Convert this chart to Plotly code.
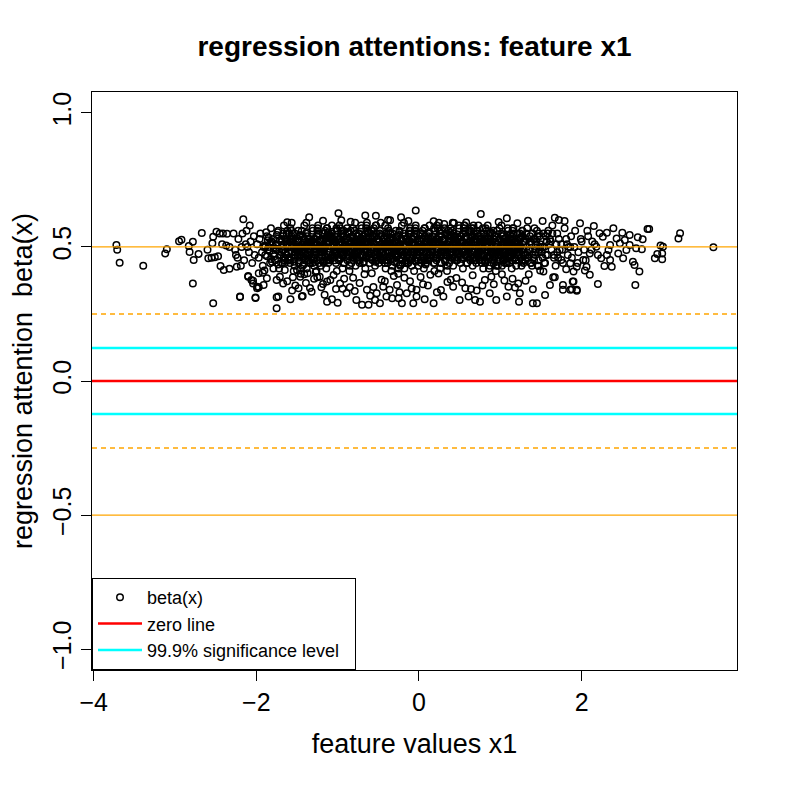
import plotly.graph_objects as go

# ---- data ----
# sparse left tail (x < -2)
left_x = [-3.72, -3.71, -3.68, -3.39, -3.12, -3.10, -2.95, -2.92, -2.83, -2.82,
          -2.78, -2.77, -2.78, -2.71, -2.67, -2.60, -2.59, -2.53, -2.54, -2.53,
          -2.49, -2.45, -2.41, -2.36, -2.55, -2.51, -2.47, -2.44, -2.40, -2.33,
          -2.24, -2.20, -2.16, -2.10, -2.06, -2.04, -2.01, -1.99, -2.42, -2.37,
          -2.33, -2.20, -2.01,
          -2.28, -2.25, -2.22, -2.18, -2.15, -2.12, -2.09, -2.07, -2.05, -2.03,
          -2.26, -2.19, -2.13, -2.08, -2.02, -2.23, -2.17, -2.11]
left_y = [0.507, 0.490, 0.441, 0.430, 0.476, 0.491, 0.521, 0.527, 0.504, 0.481,
          0.519, 0.451, 0.364, 0.474, 0.552, 0.490, 0.458, 0.290, 0.514, 0.538,
          0.557, 0.550, 0.550, 0.549, 0.460, 0.462, 0.465, 0.429, 0.414, 0.419,
          0.426, 0.315, 0.603, 0.392, 0.377, 0.364, 0.311, 0.346, 0.510, 0.505,
          0.500, 0.313, 0.310,
          0.55, 0.47, 0.53, 0.50, 0.45, 0.56, 0.48, 0.52, 0.44, 0.54,
          0.49, 0.43, 0.51, 0.58, 0.47, 0.46, 0.55, 0.50]

# dense core, one row per 0.1 wide slice of x
core_x = [
    -1.99, -1.97, -1.95, -1.93, -1.92, -1.96, -1.91,
    -1.89, -1.87, -1.85, -1.83, -1.82, -1.86, -1.81,
    -1.79, -1.77, -1.75, -1.73, -1.72, -1.76, -1.71,
    -1.69, -1.67, -1.65, -1.63, -1.62, -1.66, -1.61,
    -1.59, -1.57, -1.55, -1.53, -1.51, -1.58, -1.56, -1.54, -1.52, -1.595, -1.565, -1.515,
    -1.49, -1.47, -1.45, -1.43, -1.41, -1.48, -1.46, -1.44, -1.42, -1.485, -1.455, -1.415,
    -1.39, -1.37, -1.35, -1.33, -1.31, -1.38, -1.36, -1.34, -1.32, -1.385, -1.355, -1.315,
    -1.29, -1.27, -1.25, -1.23, -1.21, -1.28, -1.26, -1.24, -1.22, -1.285, -1.255, -1.215,
    -1.19, -1.17, -1.15, -1.13, -1.11, -1.18, -1.16, -1.14, -1.12, -1.185, -1.155, -1.115,
    -1.09, -1.07, -1.05, -1.03, -1.01, -1.08, -1.06, -1.04, -1.02, -1.085, -1.055, -1.015,
    -0.99, -0.97, -0.95, -0.93, -0.91, -0.98, -0.96, -0.94, -0.92, -0.985, -0.955, -0.915,
    -0.89, -0.87, -0.85, -0.83, -0.81, -0.88, -0.86, -0.84, -0.82, -0.885, -0.855, -0.815,
    -0.79, -0.77, -0.75, -0.73, -0.71, -0.78, -0.76, -0.74, -0.72, -0.785, -0.755, -0.715,
    -0.69, -0.67, -0.65, -0.63, -0.61, -0.68, -0.66, -0.64, -0.62, -0.685, -0.655, -0.615,
    -0.59, -0.57, -0.55, -0.53, -0.51, -0.58, -0.56, -0.54, -0.52, -0.585, -0.555, -0.515,
    -0.49, -0.47, -0.45, -0.43, -0.41, -0.48, -0.46, -0.44, -0.42, -0.485, -0.455, -0.415,
    -0.39, -0.37, -0.35, -0.33, -0.31, -0.38, -0.36, -0.34, -0.32, -0.385, -0.355, -0.315,
    -0.29, -0.27, -0.25, -0.23, -0.21, -0.28, -0.26, -0.24, -0.22, -0.285, -0.255, -0.215,
    -0.19, -0.17, -0.15, -0.13, -0.11, -0.18, -0.16, -0.14, -0.12, -0.185, -0.155, -0.115,
    -0.09, -0.07, -0.05, -0.03, -0.01, -0.08, -0.06, -0.04, -0.02, -0.085, -0.055, -0.015,
    0.01, 0.03, 0.05, 0.07, 0.09, 0.02, 0.04, 0.06, 0.08, 0.015, 0.045, 0.085,
    0.11, 0.13, 0.15, 0.17, 0.19, 0.12, 0.14, 0.16, 0.18, 0.115, 0.145, 0.185,
    0.21, 0.23, 0.25, 0.27, 0.29, 0.22, 0.24, 0.26, 0.28, 0.215, 0.245, 0.285,
    0.31, 0.33, 0.35, 0.37, 0.39, 0.32, 0.34, 0.36, 0.38, 0.315, 0.345, 0.385,
    0.41, 0.43, 0.45, 0.47, 0.49, 0.42, 0.44, 0.46, 0.48, 0.415, 0.445, 0.485,
    0.51, 0.53, 0.55, 0.57, 0.59, 0.52, 0.54, 0.56, 0.58, 0.515, 0.545, 0.585,
    0.61, 0.63, 0.65, 0.67, 0.69, 0.62, 0.64, 0.66, 0.68, 0.615, 0.645, 0.685,
    0.71, 0.73, 0.75, 0.77, 0.79, 0.72, 0.74, 0.76, 0.78, 0.715, 0.745, 0.785,
    0.81, 0.83, 0.85, 0.87, 0.89, 0.82, 0.84, 0.86, 0.88, 0.815, 0.845, 0.885,
    0.91, 0.93, 0.95, 0.97, 0.99, 0.92, 0.94, 0.96, 0.98, 0.915, 0.945, 0.985,
    1.01, 1.03, 1.05, 1.07, 1.09, 1.02, 1.04, 1.06, 1.08, 1.015, 1.045, 1.085,
    1.11, 1.13, 1.15, 1.17, 1.19, 1.12, 1.14, 1.16, 1.18, 1.115, 1.145, 1.185,
    1.21, 1.23, 1.25, 1.27, 1.29, 1.22, 1.24, 1.26, 1.28,
    1.31, 1.33, 1.35, 1.37, 1.39, 1.32, 1.34, 1.36, 1.38,
    1.41, 1.43, 1.45, 1.47, 1.49, 1.42, 1.44, 1.46, 1.48,
    1.51, 1.53, 1.55, 1.57, 1.59, 1.52, 1.54, 1.56, 1.58,
]
core_y = [
    0.51, 0.46, 0.55, 0.48, 0.43, 0.53, 0.50,
    0.47, 0.54, 0.50, 0.44, 0.57, 0.49, 0.52,
    0.53, 0.45, 0.49, 0.56, 0.42, 0.51, 0.47,
    0.48, 0.55, 0.44, 0.52, 0.50, 0.58, 0.46,
    0.52, 0.46, 0.55, 0.43, 0.50, 0.57, 0.48, 0.41, 0.53, 0.45, 0.59, 0.49,
    0.47, 0.54, 0.42, 0.51, 0.58, 0.44, 0.50, 0.56, 0.46, 0.53, 0.40, 0.49,
    0.55, 0.48, 0.51, 0.44, 0.57, 0.42, 0.53, 0.47, 0.50, 0.59, 0.45, 0.52,
    0.43, 0.51, 0.56, 0.48, 0.45, 0.53, 0.41, 0.58, 0.50, 0.46, 0.54, 0.49,
    0.50, 0.44, 0.53, 0.57, 0.47, 0.49, 0.55, 0.42, 0.52, 0.48, 0.56, 0.45,
    0.46, 0.58, 0.49, 0.52, 0.41, 0.55, 0.47, 0.51, 0.44, 0.54, 0.50, 0.57,
    0.53, 0.47, 0.56, 0.44, 0.51, 0.58, 0.49, 0.42, 0.54, 0.46, 0.60, 0.50,
    0.48, 0.55, 0.43, 0.52, 0.57, 0.45, 0.51, 0.56, 0.47, 0.53, 0.41, 0.50,
    0.56, 0.49, 0.52, 0.45, 0.58, 0.43, 0.54, 0.48, 0.51, 0.59, 0.46, 0.53,
    0.44, 0.52, 0.57, 0.49, 0.46, 0.54, 0.42, 0.59, 0.51, 0.47, 0.55, 0.50,
    0.51, 0.45, 0.54, 0.58, 0.48, 0.50, 0.56, 0.43, 0.53, 0.49, 0.57, 0.46,
    0.47, 0.59, 0.50, 0.53, 0.42, 0.56, 0.48, 0.52, 0.45, 0.55, 0.51, 0.58,
    0.52, 0.46, 0.55, 0.43, 0.50, 0.57, 0.48, 0.41, 0.53, 0.45, 0.60, 0.49,
    0.47, 0.54, 0.42, 0.51, 0.58, 0.44, 0.50, 0.56, 0.46, 0.53, 0.40, 0.49,
    0.55, 0.48, 0.51, 0.44, 0.57, 0.42, 0.53, 0.47, 0.50, 0.59, 0.45, 0.52,
    0.43, 0.51, 0.56, 0.48, 0.45, 0.53, 0.41, 0.58, 0.50, 0.46, 0.54, 0.49,
    0.50, 0.44, 0.53, 0.57, 0.47, 0.49, 0.55, 0.42, 0.52, 0.48, 0.56, 0.45,
    0.46, 0.58, 0.49, 0.52, 0.41, 0.55, 0.47, 0.51, 0.44, 0.54, 0.50, 0.57,
    0.53, 0.47, 0.56, 0.44, 0.51, 0.58, 0.49, 0.42, 0.54, 0.46, 0.59, 0.50,
    0.48, 0.55, 0.43, 0.52, 0.57, 0.45, 0.51, 0.56, 0.47, 0.53, 0.41, 0.50,
    0.56, 0.49, 0.52, 0.45, 0.58, 0.43, 0.54, 0.48, 0.51, 0.59, 0.46, 0.53,
    0.44, 0.52, 0.57, 0.49, 0.46, 0.54, 0.42, 0.58, 0.51, 0.47, 0.55, 0.50,
    0.51, 0.45, 0.54, 0.58, 0.48, 0.50, 0.56, 0.43, 0.53, 0.49, 0.57, 0.46,
    0.47, 0.58, 0.50, 0.53, 0.42, 0.56, 0.48, 0.52, 0.45, 0.55, 0.51, 0.57,
    0.52, 0.46, 0.55, 0.43, 0.50, 0.57, 0.48, 0.42, 0.53, 0.45, 0.58, 0.49,
    0.47, 0.54, 0.43, 0.51, 0.57, 0.44, 0.50, 0.56, 0.46, 0.53, 0.41, 0.49,
    0.55, 0.48, 0.51, 0.44, 0.57, 0.43, 0.53, 0.47, 0.50, 0.58, 0.45, 0.52,
    0.44, 0.51, 0.56, 0.48, 0.45, 0.53, 0.42, 0.57, 0.50, 0.46, 0.54, 0.49,
    0.50, 0.45, 0.53, 0.56, 0.47, 0.49, 0.55, 0.43, 0.52,
    0.47, 0.57, 0.49, 0.52, 0.43, 0.55, 0.46, 0.51, 0.44,
    0.53, 0.48, 0.56, 0.45, 0.51, 0.57, 0.49, 0.43, 0.54,
    0.48, 0.55, 0.44, 0.52, 0.56, 0.46, 0.50, 0.54, 0.47,
]

# second pass over the darkest part of the core
inner_x = [
    -1.675, -1.635, -1.665, -1.625, -1.695, -1.605, -1.645, -1.685, -1.655, -1.615, -1.67, -1.63,
    -1.575, -1.535, -1.565, -1.525, -1.595, -1.505, -1.545, -1.585, -1.555, -1.515, -1.57, -1.53,
    -1.475, -1.435, -1.465, -1.425, -1.495, -1.405, -1.445, -1.485, -1.455, -1.415, -1.47, -1.43,
    -1.375, -1.335, -1.365, -1.325, -1.395, -1.305, -1.345, -1.385, -1.355, -1.315, -1.37, -1.33,
    -1.275, -1.235, -1.265, -1.225, -1.295, -1.205, -1.245, -1.285, -1.255, -1.215, -1.27, -1.23,
    -1.175, -1.135, -1.165, -1.125, -1.195, -1.105, -1.145, -1.185, -1.155, -1.115, -1.17, -1.13,
    -1.075, -1.035, -1.065, -1.025, -1.095, -1.005, -1.045, -1.085, -1.055, -1.015, -1.07, -1.03,
    -0.975, -0.935, -0.965, -0.925, -0.995, -0.905, -0.945, -0.985, -0.955, -0.915, -0.97, -0.93,
    -0.875, -0.835, -0.865, -0.825, -0.895, -0.805, -0.845, -0.885, -0.855, -0.815, -0.87, -0.83,
    -0.775, -0.735, -0.765, -0.725, -0.795, -0.705, -0.745, -0.785, -0.755, -0.715, -0.77, -0.73,
    -0.675, -0.635, -0.665, -0.625, -0.695, -0.605, -0.645, -0.685, -0.655, -0.615, -0.67, -0.63,
    -0.575, -0.535, -0.565, -0.525, -0.595, -0.505, -0.545, -0.585, -0.555, -0.515, -0.57, -0.53,
    -0.475, -0.435, -0.465, -0.425, -0.495, -0.405, -0.445, -0.485, -0.455, -0.415, -0.47, -0.43,
    -0.375, -0.335, -0.365, -0.325, -0.395, -0.305, -0.345, -0.385, -0.355, -0.315, -0.37, -0.33,
    -0.275, -0.235, -0.265, -0.225, -0.295, -0.205, -0.245, -0.285, -0.255, -0.215, -0.27, -0.23,
    -0.175, -0.135, -0.165, -0.125, -0.195, -0.105, -0.145, -0.185, -0.155, -0.115, -0.17, -0.13,
    -0.075, -0.035, -0.065, -0.025, -0.095, -0.005, -0.045, -0.085, -0.055, -0.015, -0.07, -0.03,
    0.025, 0.065, 0.035, 0.075, 0.005, 0.095, 0.055, 0.015, 0.045, 0.085, 0.03, 0.07,
    0.125, 0.165, 0.135, 0.175, 0.105, 0.195, 0.155, 0.115, 0.145, 0.185, 0.13, 0.17,
    0.225, 0.265, 0.235, 0.275, 0.205, 0.295, 0.255, 0.215, 0.245, 0.285, 0.23, 0.27,
    0.325, 0.365, 0.335, 0.375, 0.305, 0.395, 0.355, 0.315, 0.345, 0.385, 0.33, 0.37,
    0.425, 0.465, 0.435, 0.475, 0.405, 0.495, 0.455, 0.415, 0.445, 0.485, 0.43, 0.47,
    0.525, 0.565, 0.535, 0.575, 0.505, 0.595, 0.555, 0.515, 0.545, 0.585, 0.53, 0.57,
    0.625, 0.665, 0.635, 0.675, 0.605, 0.695, 0.655, 0.615, 0.645, 0.685, 0.63, 0.67,
    0.725, 0.765, 0.735, 0.775, 0.705, 0.795, 0.755, 0.715, 0.745, 0.785, 0.73, 0.77,
    0.825, 0.865, 0.835, 0.875, 0.805, 0.895, 0.855, 0.815, 0.845, 0.885, 0.83, 0.87,
    0.925, 0.965, 0.935, 0.975, 0.905, 0.995, 0.955, 0.915, 0.945, 0.985, 0.93, 0.97,
    1.025, 1.065, 1.035, 1.075, 1.005, 1.095, 1.055, 1.015, 1.045, 1.085, 1.03, 1.07,
    1.125, 1.165, 1.135, 1.175, 1.105, 1.195, 1.155, 1.115, 1.145, 1.185, 1.13, 1.17,
    1.225, 1.265, 1.235, 1.275, 1.205, 1.295, 1.255, 1.215, 1.245, 1.285, 1.23, 1.27,
    1.325, 1.365, 1.335, 1.375, 1.305, 1.395, 1.355, 1.315, 1.345, 1.385, 1.33, 1.37,
    1.425, 1.465, 1.435, 1.475, 1.405, 1.495, 1.455, 1.415, 1.445, 1.485, 1.43, 1.47,
]
inner_y = [
    0.49, 0.53, 0.46, 0.51, 0.44, 0.55, 0.48, 0.52, 0.45, 0.50, 0.54, 0.47,
    0.52, 0.47, 0.50, 0.55, 0.45, 0.49, 0.53, 0.44, 0.51, 0.48, 0.56, 0.46,
    0.46, 0.51, 0.54, 0.48, 0.52, 0.45, 0.50, 0.56, 0.47, 0.53, 0.49, 0.43,
    0.54, 0.49, 0.45, 0.52, 0.47, 0.56, 0.44, 0.50, 0.53, 0.46, 0.51, 0.48,
    0.48, 0.55, 0.51, 0.46, 0.53, 0.43, 0.57, 0.49, 0.45, 0.52, 0.47, 0.50,
    0.51, 0.45, 0.49, 0.54, 0.48, 0.52, 0.46, 0.55, 0.50, 0.44, 0.53, 0.57,
    0.50, 0.54, 0.47, 0.52, 0.45, 0.56, 0.49, 0.53, 0.46, 0.51, 0.55, 0.48,
    0.53, 0.48, 0.51, 0.56, 0.46, 0.50, 0.54, 0.45, 0.52, 0.49, 0.57, 0.47,
    0.47, 0.52, 0.55, 0.49, 0.53, 0.46, 0.51, 0.57, 0.48, 0.54, 0.50, 0.44,
    0.55, 0.50, 0.46, 0.53, 0.48, 0.57, 0.45, 0.51, 0.54, 0.47, 0.52, 0.49,
    0.49, 0.56, 0.52, 0.47, 0.54, 0.44, 0.58, 0.50, 0.46, 0.53, 0.48, 0.51,
    0.52, 0.46, 0.50, 0.55, 0.49, 0.53, 0.47, 0.56, 0.51, 0.45, 0.54, 0.58,
    0.49, 0.53, 0.46, 0.51, 0.44, 0.55, 0.48, 0.52, 0.45, 0.50, 0.54, 0.47,
    0.52, 0.47, 0.50, 0.55, 0.45, 0.49, 0.53, 0.44, 0.51, 0.48, 0.56, 0.46,
    0.46, 0.51, 0.54, 0.48, 0.52, 0.45, 0.50, 0.56, 0.47, 0.53, 0.49, 0.43,
    0.54, 0.49, 0.45, 0.52, 0.47, 0.56, 0.44, 0.50, 0.53, 0.46, 0.51, 0.48,
    0.48, 0.55, 0.51, 0.46, 0.53, 0.43, 0.57, 0.49, 0.45, 0.52, 0.47, 0.50,
    0.51, 0.45, 0.49, 0.54, 0.48, 0.52, 0.46, 0.55, 0.50, 0.44, 0.53, 0.57,
    0.50, 0.54, 0.47, 0.52, 0.45, 0.56, 0.49, 0.53, 0.46, 0.51, 0.55, 0.48,
    0.53, 0.48, 0.51, 0.56, 0.46, 0.50, 0.54, 0.45, 0.52, 0.49, 0.57, 0.47,
    0.47, 0.52, 0.55, 0.49, 0.53, 0.46, 0.51, 0.57, 0.48, 0.54, 0.50, 0.44,
    0.55, 0.50, 0.46, 0.53, 0.48, 0.57, 0.45, 0.51, 0.54, 0.47, 0.52, 0.49,
    0.49, 0.56, 0.52, 0.47, 0.54, 0.44, 0.58, 0.50, 0.46, 0.53, 0.48, 0.51,
    0.52, 0.46, 0.50, 0.55, 0.49, 0.53, 0.47, 0.56, 0.51, 0.45, 0.54, 0.57,
    0.49, 0.53, 0.46, 0.51, 0.44, 0.55, 0.48, 0.52, 0.45, 0.50, 0.54, 0.47,
    0.52, 0.47, 0.50, 0.55, 0.45, 0.49, 0.53, 0.44, 0.51, 0.48, 0.56, 0.46,
    0.46, 0.51, 0.54, 0.48, 0.52, 0.45, 0.50, 0.56, 0.47, 0.53, 0.49, 0.43,
    0.54, 0.49, 0.45, 0.52, 0.47, 0.56, 0.44, 0.50, 0.53, 0.46, 0.51, 0.48,
    0.48, 0.55, 0.51, 0.46, 0.53, 0.43, 0.57, 0.49, 0.45, 0.52, 0.47, 0.50,
    0.51, 0.45, 0.49, 0.54, 0.48, 0.52, 0.46, 0.55, 0.50, 0.44, 0.53, 0.56,
    0.50, 0.54, 0.47, 0.52, 0.45, 0.55, 0.49, 0.53, 0.46, 0.51, 0.48, 0.44,
    0.53, 0.48, 0.51, 0.55, 0.46, 0.50, 0.54, 0.45, 0.52, 0.49, 0.47, 0.43,
]

# third pass: fills the gaps between the first two passes
fill_x = [
    -1.888, -1.848, -1.868, -1.828, -1.808, -1.878, -1.838, -1.858, -1.818, -1.898,
    -1.788, -1.748, -1.768, -1.728, -1.708, -1.778, -1.738, -1.758, -1.718, -1.798,
    -1.688, -1.648, -1.668, -1.628, -1.608, -1.678, -1.638, -1.658, -1.618, -1.698,
    -1.588, -1.548, -1.568, -1.528, -1.508, -1.578, -1.538, -1.558, -1.518, -1.598,
    -1.488, -1.448, -1.468, -1.428, -1.408, -1.478, -1.438, -1.458, -1.418, -1.498,
    -1.388, -1.348, -1.368, -1.328, -1.308, -1.378, -1.338, -1.358, -1.318, -1.398,
    -1.288, -1.248, -1.268, -1.228, -1.208, -1.278, -1.238, -1.258, -1.218, -1.298,
    -1.188, -1.148, -1.168, -1.128, -1.108, -1.178, -1.138, -1.158, -1.118, -1.198,
    -1.088, -1.048, -1.068, -1.028, -1.008, -1.078, -1.038, -1.058, -1.018, -1.098,
    -0.988, -0.948, -0.968, -0.928, -0.908, -0.978, -0.938, -0.958, -0.918, -0.998,
    -0.888, -0.848, -0.868, -0.828, -0.808, -0.878, -0.838, -0.858, -0.818, -0.898,
    -0.788, -0.748, -0.768, -0.728, -0.708, -0.778, -0.738, -0.758, -0.718, -0.798,
    -0.688, -0.648, -0.668, -0.628, -0.608, -0.678, -0.638, -0.658, -0.618, -0.698,
    -0.588, -0.548, -0.568, -0.528, -0.508, -0.578, -0.538, -0.558, -0.518, -0.598,
    -0.488, -0.448, -0.468, -0.428, -0.408, -0.478, -0.438, -0.458, -0.418, -0.498,
    -0.388, -0.348, -0.368, -0.328, -0.308, -0.378, -0.338, -0.358, -0.318, -0.398,
    -0.288, -0.248, -0.268, -0.228, -0.208, -0.278, -0.238, -0.258, -0.218, -0.298,
    -0.188, -0.148, -0.168, -0.128, -0.108, -0.178, -0.138, -0.158, -0.118, -0.198,
    -0.088, -0.048, -0.068, -0.028, -0.008, -0.078, -0.038, -0.058, -0.018, -0.098,
    0.012, 0.052, 0.032, 0.072, 0.092, 0.022, 0.062, 0.042, 0.082, 0.002,
    0.112, 0.152, 0.132, 0.172, 0.192, 0.122, 0.162, 0.142, 0.182, 0.102,
    0.212, 0.252, 0.232, 0.272, 0.292, 0.222, 0.262, 0.242, 0.282, 0.202,
    0.312, 0.352, 0.332, 0.372, 0.392, 0.322, 0.362, 0.342, 0.382, 0.302,
    0.412, 0.452, 0.432, 0.472, 0.492, 0.422, 0.462, 0.442, 0.482, 0.402,
    0.512, 0.552, 0.532, 0.572, 0.592, 0.522, 0.562, 0.542, 0.582, 0.502,
    0.612, 0.652, 0.632, 0.672, 0.692, 0.622, 0.662, 0.642, 0.682, 0.602,
    0.712, 0.752, 0.732, 0.772, 0.792, 0.722, 0.762, 0.742, 0.782, 0.702,
    0.812, 0.852, 0.832, 0.872, 0.892, 0.822, 0.862, 0.842, 0.882, 0.802,
    0.912, 0.952, 0.932, 0.972, 0.992, 0.922, 0.962, 0.942, 0.982, 0.902,
    1.012, 1.052, 1.032, 1.072, 1.092, 1.022, 1.062, 1.042, 1.082, 1.002,
    1.112, 1.152, 1.132, 1.172, 1.192, 1.122, 1.162, 1.142, 1.182, 1.102,
    1.212, 1.252, 1.232, 1.272, 1.292, 1.222, 1.262, 1.242, 1.282, 1.202,
]
fill_y = [
    0.500, 0.535, 0.465, 0.515, 0.445, 0.555, 0.485, 0.525, 0.455, 0.505,
    0.475, 0.545, 0.495, 0.435, 0.525, 0.465, 0.555, 0.505, 0.485, 0.515,
    0.530, 0.460, 0.510, 0.550, 0.480, 0.440, 0.520, 0.490, 0.560, 0.470,
    0.455, 0.505, 0.540, 0.470, 0.500, 0.530, 0.445, 0.515, 0.480, 0.550,
    0.520, 0.480, 0.450, 0.540, 0.510, 0.490, 0.465, 0.545, 0.435, 0.500,
    0.505, 0.530, 0.470, 0.515, 0.440, 0.555, 0.485, 0.520, 0.460, 0.500,
    0.480, 0.540, 0.495, 0.440, 0.525, 0.470, 0.550, 0.510, 0.485, 0.515,
    0.525, 0.465, 0.505, 0.545, 0.480, 0.445, 0.520, 0.495, 0.555, 0.470,
    0.460, 0.505, 0.535, 0.475, 0.500, 0.530, 0.450, 0.510, 0.485, 0.545,
    0.515, 0.485, 0.455, 0.540, 0.505, 0.490, 0.470, 0.550, 0.440, 0.500,
    0.495, 0.535, 0.465, 0.520, 0.450, 0.555, 0.480, 0.525, 0.460, 0.505,
    0.475, 0.540, 0.500, 0.440, 0.525, 0.465, 0.550, 0.505, 0.490, 0.515,
    0.530, 0.465, 0.510, 0.550, 0.475, 0.445, 0.520, 0.490, 0.555, 0.470,
    0.455, 0.510, 0.540, 0.470, 0.495, 0.530, 0.445, 0.515, 0.485, 0.550,
    0.520, 0.480, 0.455, 0.535, 0.510, 0.490, 0.465, 0.545, 0.440, 0.500,
    0.500, 0.535, 0.465, 0.515, 0.445, 0.555, 0.485, 0.525, 0.455, 0.505,
    0.475, 0.545, 0.495, 0.435, 0.525, 0.465, 0.555, 0.505, 0.485, 0.515,
    0.530, 0.460, 0.510, 0.550, 0.480, 0.440, 0.520, 0.490, 0.560, 0.470,
    0.455, 0.505, 0.540, 0.470, 0.500, 0.530, 0.445, 0.515, 0.480, 0.550,
    0.520, 0.480, 0.450, 0.540, 0.510, 0.490, 0.465, 0.545, 0.435, 0.500,
    0.505, 0.530, 0.470, 0.515, 0.440, 0.555, 0.485, 0.520, 0.460, 0.500,
    0.480, 0.540, 0.495, 0.440, 0.525, 0.470, 0.550, 0.510, 0.485, 0.515,
    0.525, 0.465, 0.505, 0.545, 0.480, 0.445, 0.520, 0.495, 0.555, 0.470,
    0.460, 0.505, 0.535, 0.475, 0.500, 0.530, 0.450, 0.510, 0.485, 0.545,
    0.515, 0.485, 0.455, 0.540, 0.505, 0.490, 0.470, 0.550, 0.440, 0.500,
    0.495, 0.535, 0.465, 0.520, 0.450, 0.555, 0.480, 0.525, 0.460, 0.505,
    0.475, 0.540, 0.500, 0.440, 0.525, 0.465, 0.550, 0.505, 0.490, 0.515,
    0.530, 0.465, 0.510, 0.550, 0.475, 0.445, 0.520, 0.490, 0.555, 0.470,
    0.455, 0.510, 0.540, 0.470, 0.495, 0.530, 0.445, 0.515, 0.485, 0.550,
    0.520, 0.480, 0.455, 0.535, 0.510, 0.490, 0.465, 0.545, 0.440, 0.500,
    0.500, 0.530, 0.465, 0.515, 0.450, 0.545, 0.485, 0.525, 0.460, 0.505,
    0.480, 0.535, 0.495, 0.445, 0.520, 0.470, 0.540, 0.505, 0.490, 0.515,
]

# taper of the dense band on its right end
taper_x = [1.52, 1.56, 1.61, 1.58, 1.63, 1.69, 1.54, 1.66, 1.72, 1.60,
           1.76, 1.82, 1.57, 1.64, 1.70]
taper_y = [0.50, 0.47, 0.53, 0.55, 0.49, 0.51, 0.44, 0.46, 0.53, 0.51,
           0.49, 0.51, 0.52, 0.55, 0.48]

# scattered points below the core (y < 0.42)
low_x = [-2.10, -2.04, -1.99, -1.92, -1.87, -1.79, -1.71, -1.65, -1.55, -1.50,
         -1.37, -1.25, -1.13, -1.75, -1.75, -1.58, -1.48, -1.43, -1.34, -1.20,
         -1.13, -1.97, -1.90, -1.91, -1.97, -1.75, -1.73, -1.44, -1.32, -1.22,
         -1.07, -1.00, -0.89, -0.85, -0.77, -0.70, -0.62, -0.54, -0.48, -0.40,
         -0.36, -0.27, -0.21, -0.15, -0.07, -0.03, -1.09, -0.97, -0.64, -0.52,
         -0.44, -1.46, -1.67,
         -0.03, 0.07, 0.18, 0.30, 0.42, 0.50, 0.61, 0.69, 0.75, 0.87,
         0.95, 1.08, 1.10, 1.22, 1.24, 1.23, 1.40, 1.45, 1.40, 1.55,
         1.61, 1.67, 1.77, 1.86, 1.94, 1.90, 1.77, 1.49, 1.53, 1.65,
         1.81, 1.90, 1.86, 1.94, 1.75,
         -1.62, -1.52, -1.41, -1.29, -1.18, -1.05, -0.94, -0.81, -0.73, -0.58,
         -0.46, -0.31, -0.24, -0.11, 0.02, 0.11, 0.24, 0.35, 0.46, 0.57,
         0.66, 0.81, 0.92, 1.02, 1.15, 1.31, -1.56, -1.39, -1.27, -1.16,
         -1.02, -0.92, -0.79, -0.67, -0.56, -0.42, -0.33, -0.18, -0.09, 0.05,
         0.14, 0.27, 0.39, 0.53, 0.64, 0.78, 0.89, 1.05, 1.18, 1.35,
         -0.60, -0.25, 0.22, 0.71]
low_y = [0.389, 0.374, 0.352, 0.404, 0.383, 0.420, 0.389, 0.414, 0.387, 0.414,
         0.402, 0.387, 0.371, 0.312, 0.271, 0.305, 0.346, 0.317, 0.347, 0.350,
         0.296, 0.402, 0.412, 0.358, 0.350, 0.377, 0.315, 0.315, 0.333, 0.389,
         0.305, 0.292, 0.327, 0.350, 0.302, 0.284, 0.284, 0.302, 0.290, 0.315,
         0.340, 0.358, 0.290, 0.327, 0.290, 0.315, 0.377, 0.364, 0.340, 0.327,
         0.352, 0.389, 0.364,
         0.340, 0.305, 0.290, 0.315, 0.352, 0.302, 0.315, 0.302, 0.296, 0.327,
         0.302, 0.315, 0.352, 0.364, 0.327, 0.296, 0.290, 0.290, 0.342, 0.321,
         0.358, 0.387, 0.340, 0.340, 0.337, 0.371, 0.358, 0.412, 0.408, 0.387,
         0.417, 0.408, 0.439, 0.426, 0.451,
         0.372, 0.356, 0.398, 0.381, 0.362, 0.395, 0.344, 0.385, 0.366, 0.402,
         0.378, 0.392, 0.331, 0.372, 0.388, 0.356, 0.401, 0.369, 0.384, 0.346,
         0.394, 0.377, 0.361, 0.398, 0.381, 0.374, 0.338, 0.366, 0.407, 0.322,
         0.343, 0.381, 0.336, 0.398, 0.351, 0.372, 0.309, 0.385, 0.345, 0.361,
         0.396, 0.339, 0.378, 0.367, 0.343, 0.356, 0.389, 0.375, 0.349, 0.398,
         0.318, 0.309, 0.331, 0.338]

# scattered points above the core
up_x = [-1.35, -0.99, -0.66, -0.53, -0.04, -0.22, 0.76, 1.67, 1.72, 1.79,
        1.08, 1.34, 1.52, -1.62, -1.18, -0.84, -0.38, 0.18, 0.43, 0.98,
        1.21, 0.58, -0.13, 0.31]
up_y = [0.611, 0.626, 0.617, 0.616, 0.636, 0.611, 0.623, 0.609, 0.601, 0.597,
        0.607, 0.598, 0.597, 0.592, 0.598, 0.594, 0.601, 0.596, 0.589, 0.593,
        0.588, 0.591, 0.597, 0.586]

# right side thinning out (x > 1.6)
right_x = [1.62, 1.66, 1.70, 1.73, 1.77, 1.81, 1.84, 1.88, 1.92, 1.96,
           2.00, 2.05, 2.08, 2.12, 2.16, 2.20, 1.64, 1.68, 1.75, 1.79,
           1.83, 1.87, 1.91, 1.95, 1.99, 2.03, 2.07, 2.13, 1.71, 1.86,
           1.98, 2.15, 2.39, 2.50, 2.59, 2.69, 2.75, 2.81, 2.83, 3.19,
           3.21, 3.62, 2.97, 3.00, 2.99, 2.99, 2.93, 2.90, 2.71, 2.66,
           2.63, 2.65, 2.51, 2.74, 2.67, 2.59, 2.53, 2.47, 2.35, 2.26,
           2.31, 2.22, 2.37, 2.28, 2.20, 2.10, 2.04, 1.94, 1.88, 1.89,
           2.06, 2.35, 2.24, 2.45, 2.55, 2.43, 2.18, 2.10, 2.31, 2.33,
           2.02]
right_y = [0.52, 0.47, 0.55, 0.49, 0.44, 0.53, 0.50, 0.46, 0.56, 0.48,
           0.52, 0.45, 0.54, 0.49, 0.51, 0.47, 0.58, 0.43, 0.51, 0.57,
           0.47, 0.54, 0.50, 0.44, 0.53, 0.49, 0.56, 0.52, 0.46, 0.50,
           0.588, 0.578, 0.570, 0.553, 0.545, 0.536, 0.529, 0.567, 0.567, 0.532,
           0.551, 0.499, 0.505, 0.501, 0.476, 0.454, 0.474, 0.458, 0.408, 0.358,
           0.445, 0.433, 0.458, 0.491, 0.495, 0.507, 0.526, 0.514, 0.507, 0.538,
           0.553, 0.551, 0.426, 0.429, 0.362, 0.396, 0.412, 0.340, 0.342, 0.371,
           0.426, 0.451, 0.458, 0.476, 0.489, 0.532, 0.501, 0.476, 0.470, 0.489,
           0.451]

zero_level = [0.0]
sig_levels = [0.123, -0.123]
orange_levels = [0.5, -0.5]
orange_dash_levels = [0.25, -0.25]

x_ticks = [-4, -2, 0, 2]
x_tick_text = ["\u22124", "\u22122", "0", "2"]
y_ticks = [-1.0, -0.5, 0.0, 0.5, 1.0]
y_tick_text = ["\u22121.0", "\u22120.5", "0.0", "0.5", "1.0"]

FONT = "Liberation Sans, Arial, Helvetica, sans-serif"

beta_x = left_x + core_x + inner_x + fill_x + taper_x + low_x + up_x + right_x
beta_y = left_y + core_y + inner_y + fill_y + taper_y + low_y + up_y + right_y

fig = go.Figure()
fig.add_trace(go.Scatter(
    x=beta_x, y=beta_y, mode="markers", name="beta(x)",
    marker=dict(symbol="circle-open", size=6.5, color="black",
                line=dict(width=1.5, color="black")),
))

# horizontal reference lines
for lv in orange_levels:
    fig.add_hline(y=lv, line=dict(color="#FFA500", width=1.3))
for lv in orange_dash_levels:
    fig.add_hline(y=lv, line=dict(color="#FFA500", width=1.3, dash="5px,4px"))
for lv in sig_levels:
    fig.add_hline(y=lv, line=dict(color="#00FFFF", width=2.5))
for lv in zero_level:
    fig.add_hline(y=lv, line=dict(color="#FF0000", width=2.5))

# legend-only entries for the lines
fig.add_trace(go.Scatter(x=[None], y=[None], mode="lines", name="zero line",
                         line=dict(color="#FF0000", width=2.5)))
fig.add_trace(go.Scatter(x=[None], y=[None], mode="lines",
                         name="99.9% significance level\u00a0\u00a0",
                         line=dict(color="#00FFFF", width=2.5)))

# page body adds an 8px offset, so the figure is a bit smaller than the window
fig.update_layout(
    width=777, height=777,
    paper_bgcolor="white", plot_bgcolor="white",
    margin=dict(l=84, r=48, t=84, b=115),
    font=dict(family=FONT, color="black"),
    title=dict(text="<b>regression attentions: feature x1</b>",
               x=0.5, xref="paper", y=1 - 38 / 777, yref="container",
               xanchor="center", yanchor="middle",
               font=dict(size=28, family=FONT)),
    showlegend=True,
    legend=dict(x=0, y=0, xanchor="left", yanchor="bottom",
                bordercolor="black", borderwidth=1, bgcolor="white",
                font=dict(size=18, family=FONT), itemwidth=44,
                tracegroupgap=0),
)
fig.update_xaxes(
    range=[-4.02, 3.91], showgrid=False, zeroline=False,
    showline=True, mirror=True, linecolor="black", linewidth=1,
    ticks="outside", ticklen=10, tickcolor="black",
    tickvals=x_ticks, ticktext=x_tick_text,
    tickfont=dict(size=25, family=FONT),
    title=dict(text="feature values x1", font=dict(size=27, family=FONT), standoff=19),
    automargin=False,
)
fig.update_yaxes(
    range=[-1.078, 1.078], showgrid=False, zeroline=False,
    showline=True, mirror=True, linecolor="black", linewidth=1,
    ticks="outside", ticklen=10, tickcolor="black",
    tickvals=y_ticks, ticktext=y_tick_text, tickangle=-90,
    tickfont=dict(size=25, family=FONT),
    title=dict(text="regression attention  beta(x)", font=dict(size=27, family=FONT), standoff=14),
    automargin=False,
)

fig.write_html("out.html")
